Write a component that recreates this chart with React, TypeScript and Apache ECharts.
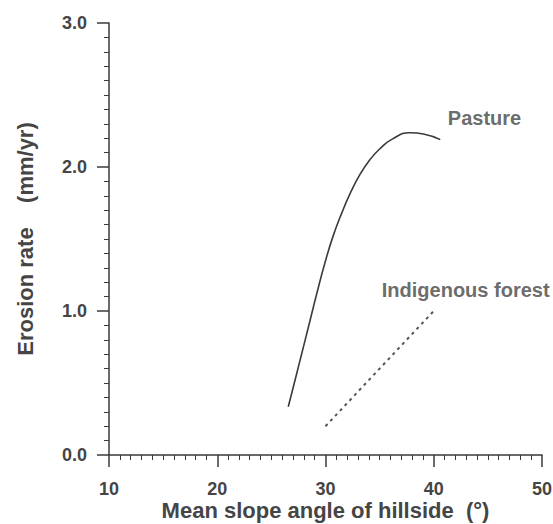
import React, { useEffect, useRef } from "react";
import * as echarts from "echarts";

// Mean slope angle (°) vs erosion rate (mm/yr)
const pastureSlope = [26.56, 27.02, 27.64, 28.41, 29.19, 29.95, 30.7, 31.5, 32.3, 33.2, 34.1, 35.0, 36.2, 37.8, 39.05, 40.6];
const pastureRate = [0.335, 0.47, 0.655, 0.885, 1.12, 1.335, 1.52, 1.68, 1.82, 1.95, 2.05, 2.125, 2.195, 2.238, 2.229, 2.19];

const forestSlope = [30, 40];
const forestRate = [0.2, 1.0];

const labelNames = ["Pasture", "Indigenous forest"];
const labelSlope = [41.3, 35.2];
const labelRate = [2.337, 1.149];

const xTicks = [10, 20, 30, 40, 50];
const yTicks = [0, 1, 2, 3];

const FONT = "'Liberation Sans', Arial, Helvetica, sans-serif";
const TEXT = "#454545";
const LINE = "#3a3a3a";

export default function App() {
  const ref = useRef<HTMLDivElement>(null);
  useEffect(() => {
    if (!ref.current) return;
    const chart = echarts.init(ref.current, null, { renderer: "svg" });
    const axisCommon = {
      type: "value" as const,
      nameMoveOverlap: false,
      axisLine: { show: true, onZero: false, lineStyle: { color: LINE, width: 1.5 } },
      axisTick: { show: true, inside: false, length: 12, lineStyle: { color: LINE, width: 1.5 } },
      minorTick: { show: true, splitNumber: 10, length: 5, lineStyle: { color: LINE, width: 1 } },
      splitLine: { show: false },
      minorSplitLine: { show: false },
    };
    chart.setOption({
      animation: false,
      backgroundColor: "#ffffff",
      textStyle: { fontFamily: FONT },
      grid: {
        left: 109,
        right: 11,
        top: 23,
        bottom: 69,
        containLabel: false,
        outerBoundsMode: "none",
      },
      xAxis: {
        ...axisCommon,
        min: xTicks[0],
        max: xTicks[xTicks.length - 1],
        interval: 10,
        name: "Mean slope angle of hillside  (\u00B0)",
        nameLocation: "middle",
        nameGap: 44,
        nameTextStyle: { fontFamily: FONT, fontWeight: "bold", color: TEXT, fontSize: 22, lineHeight: 22 },
        axisLabel: { margin: 25, fontSize: 18, fontWeight: "bold", color: TEXT, fontFamily: FONT },
      },
      yAxis: {
        ...axisCommon,
        min: yTicks[0],
        max: yTicks[yTicks.length - 1],
        interval: 1,
        name: "Erosion rate    (mm/yr)",
        nameLocation: "middle",
        nameGap: 73,
        nameTextStyle: { fontFamily: FONT, fontWeight: "bold", color: TEXT, fontSize: 22 },
        axisLabel: {
          margin: 22,
          fontSize: 18,
          fontWeight: "bold",
          color: TEXT,
          fontFamily: FONT,
          formatter: (v: number) => v.toFixed(1),
        },
      },
      series: [
        {
          type: "line",
          name: "Pasture",
          smooth: 0.5,
          showSymbol: false,
          symbol: "none",
          data: pastureSlope.map((x, i) => [x, pastureRate[i]]),
          lineStyle: { color: LINE, width: 1.6 },
        },
        {
          type: "line",
          name: "Indigenous forest",
          showSymbol: false,
          symbol: "none",
          data: forestSlope.map((x, i) => [x, forestRate[i]]),
          lineStyle: { color: "#555555", width: 2, type: [3, 4] },
        },
        {
          type: "scatter",
          symbolSize: 0,
          silent: true,
          data: labelNames.map((n, i) => ({ name: n, value: [labelSlope[i], labelRate[i]] })),
          label: {
            show: true,
            formatter: (p: any) => p.name,
            position: [0, 0],
            align: "left",
            verticalAlign: "middle",
            fontFamily: FONT,
            fontWeight: "bold",
            fontSize: 20,
            color: TEXT,
          },
        },
      ],
    });
    return () => chart.dispose();
  }, []);
  return (
    <div
      ref={ref}
      style={{ position: "absolute", left: 0, top: 0, width: 553, height: 524 }}
    />
  );
}
